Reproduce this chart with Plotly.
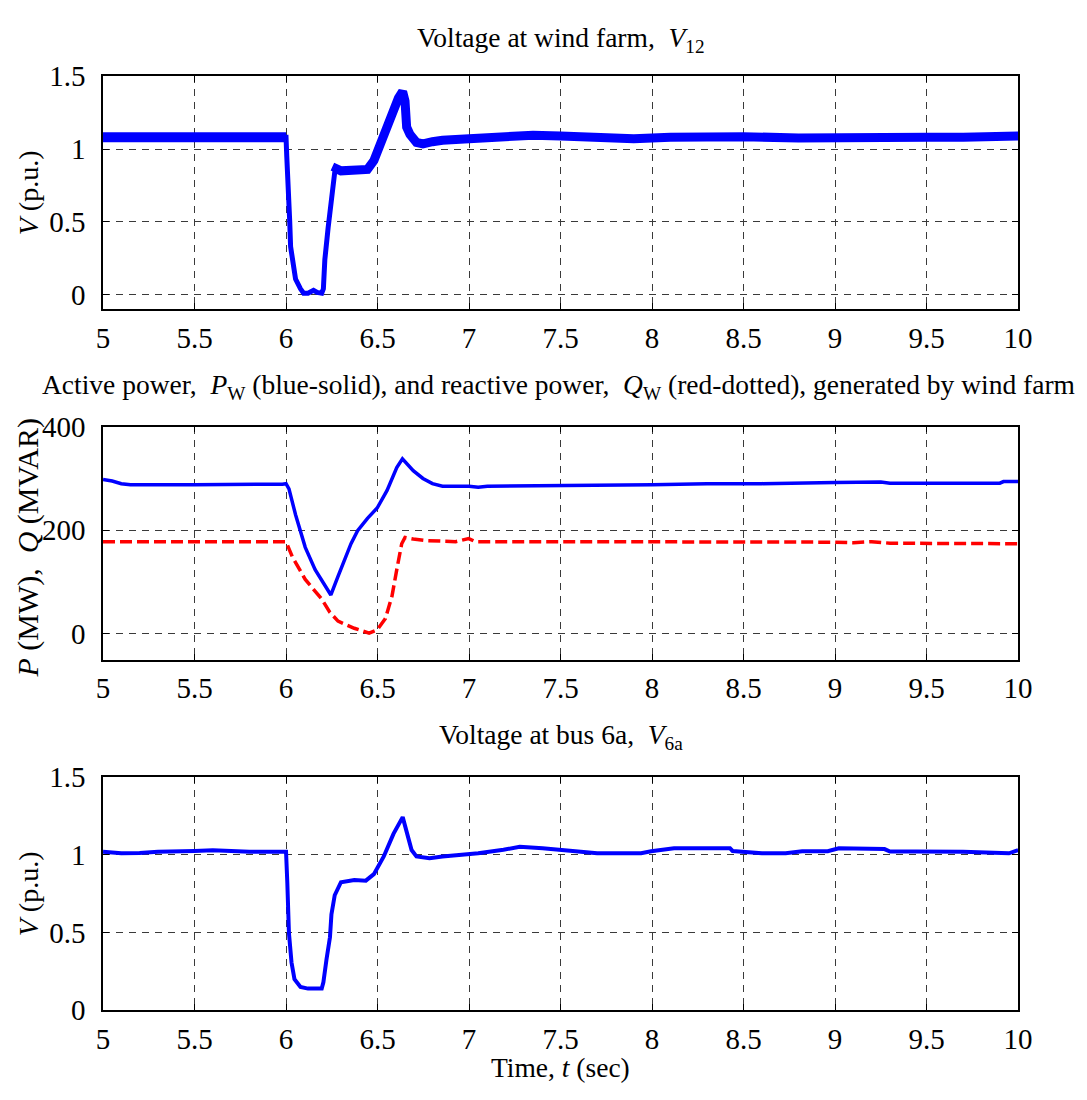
import plotly.graph_objects as go

# ---------------- data ----------------
# Top: voltage at wind farm V12 (p.u.)
t12 = [5.0, 5.2, 5.4, 5.6, 5.8, 6.0, 6.004, 6.016, 6.02, 6.025, 6.0375, 6.052, 6.079, 6.096,
       6.12, 6.15, 6.17, 6.195, 6.204, 6.212, 6.23, 6.245, 6.257, 6.266, 6.275, 6.3, 6.35,
       6.4, 6.445, 6.48, 6.516, 6.57, 6.614, 6.637, 6.65, 6.659, 6.677, 6.7125, 6.748, 6.8,
       6.855, 7.0, 7.2, 7.35, 7.5, 7.7, 7.9, 8.1, 8.3, 8.5, 8.8, 9.0, 9.3, 9.5, 9.7, 10.0]
v12 = [1.08, 1.08, 1.085, 1.08, 1.085, 1.08, 0.95, 0.684, 0.507, 0.329, 0.196, 0.107, 0.04, 0.01,
       0.01, 0.03, 0.015, 0.01, 0.04, 0.24, 0.46, 0.62, 0.75, 0.84, 0.865, 0.85, 0.855,
       0.85, 0.86, 0.92, 1.04, 1.195, 1.35, 1.395, 1.33, 1.15, 1.1, 1.045, 1.035, 1.05,
       1.06, 1.07, 1.085, 1.095, 1.09, 1.075, 1.07, 1.08, 1.09, 1.085, 1.075, 1.08, 1.085, 1.08, 1.08, 1.09]

# Middle: active power P_W (MW) and reactive power Q_W (MVAR)
tp = [5.0, 5.05, 5.1, 5.15, 5.5, 5.9, 5.98, 6.0, 6.016, 6.052, 6.105, 6.159, 6.245, 6.284,
      6.355, 6.391, 6.445, 6.498, 6.552, 6.605, 6.636, 6.695, 6.748, 6.8, 6.855, 7.0, 7.05,
      7.1, 7.5, 8.0, 8.3, 8.6, 9.0, 9.25, 9.3, 9.9, 9.92, 10.0]
pw = [298, 295, 290, 288, 288, 288, 289, 290, 280, 230, 167, 124, 75, 111,
      174, 199, 223, 243, 277, 321, 338, 315, 300, 290, 285, 285, 283,
      285, 286, 288, 290, 290, 292, 293, 291, 291, 294, 294]

tq = [5.0, 5.5, 6.0, 6.034, 6.105, 6.195, 6.239, 6.284, 6.373, 6.454, 6.498, 6.543, 6.579,
      6.605, 6.632, 6.65, 6.695, 6.766, 6.927, 6.998, 7.034, 7.5, 8.0, 8.5, 9.0, 9.1, 9.2,
      9.3, 9.5, 10.0]
qw = [178, 178, 178, 149, 105, 67, 42, 24.5, 10.7, 1.3, 7.5, 29.5, 73,
      124, 174, 186, 183, 180, 178, 184, 178, 178, 178, 178, 177, 176, 178,
      175, 175, 174]

# Bottom: voltage at bus 6a (p.u.)
tv = [5.0, 5.05, 5.1, 5.2, 5.3, 5.5, 5.6, 5.8, 6.0, 6.007, 6.012, 6.016, 6.03, 6.046, 6.079,
      6.12, 6.195, 6.204, 6.221, 6.24, 6.248, 6.266, 6.30, 6.373, 6.436, 6.48, 6.534, 6.587,
      6.6375, 6.659, 6.686, 6.7125, 6.784, 6.855, 6.998, 7.05, 7.188, 7.277, 7.402, 7.509,
      7.652, 7.7, 7.94, 7.995, 8.12, 8.426, 8.44, 8.55, 8.6, 8.73, 8.82, 8.96, 9.02, 9.27,
      9.3, 9.44, 9.7, 9.95, 10.0]
v6a = [1.02, 1.015, 1.01, 1.012, 1.02, 1.025, 1.03, 1.02, 1.02, 0.82, 0.66, 0.494, 0.307, 0.2, 0.15,
       0.139, 0.139, 0.18, 0.326, 0.47, 0.616, 0.74, 0.824, 0.838, 0.834, 0.876, 0.99, 1.135,
       1.243, 1.156, 1.031, 0.99, 0.979, 0.99, 1.0, 1.01, 1.033, 1.052, 1.042, 1.031,
       1.017, 1.01, 1.01, 1.023, 1.042, 1.042, 1.025, 1.017, 1.01, 1.01, 1.023, 1.023, 1.042, 1.037,
       1.021, 1.021, 1.02, 1.01, 1.03]

xticks = [5, 5.5, 6, 6.5, 7, 7.5, 8, 8.5, 9, 9.5, 10]
xticklabels = ["5", "5.5", "6", "6.5", "7", "7.5", "8", "8.5", "9", "9.5", "10"]
yticks_v = [0, 0.5, 1, 1.5]
yticklabels_v = ["0", "0.5", "1", "1.5"]
yticks_p = [0, 200, 400]

# ---------------- figure ----------------
W, H = 1087, 1100
FONT = "Liberation Serif, Times New Roman, serif"
BLUE = "#0000ff"
RED = "#ff0000"

fig = go.Figure()

# top: thin line everywhere, thicker "noisy band" in steady parts
fig.add_trace(go.Scatter(x=t12, y=v12, mode="lines", line=dict(color=BLUE, width=5),
                         xaxis="x", yaxis="y", showlegend=False))
thick_idx = [i for i, t in enumerate(t12) if t <= 6.0]
fig.add_trace(go.Scatter(x=[t12[i] for i in thick_idx], y=[v12[i] for i in thick_idx], mode="lines",
                         line=dict(color=BLUE, width=10), xaxis="x", yaxis="y", showlegend=False))
thick_idx2 = [i for i, t in enumerate(t12) if t >= 6.266]
fig.add_trace(go.Scatter(x=[t12[i] for i in thick_idx2], y=[v12[i] for i in thick_idx2], mode="lines",
                         line=dict(color=BLUE, width=9), xaxis="x", yaxis="y", showlegend=False))

fig.add_trace(go.Scatter(x=tp, y=pw, mode="lines", line=dict(color=BLUE, width=3.5),
                         xaxis="x2", yaxis="y2", showlegend=False))
fig.add_trace(go.Scatter(x=tq, y=qw, mode="lines", line=dict(color=RED, width=3.5, dash="12px,5px"),
                         xaxis="x2", yaxis="y2", showlegend=False))

fig.add_trace(go.Scatter(x=tv, y=v6a, mode="lines", line=dict(color=BLUE, width=4),
                         xaxis="x3", yaxis="y3", showlegend=False))

xdom = [98 / W, 1032 / W]


def ydom(top, bottom):
    return [1 - bottom / H, 1 - top / H]


TICKF = dict(family=FONT, size=29, color="black")
common_x = dict(range=[5, 10], tickvals=xticks, ticktext=xticklabels, showgrid=True,
                gridcolor="#3a3a3a", griddash="7px,6px", gridwidth=1, zeroline=False,
                showline=True, linecolor="black", linewidth=1.5, mirror="ticks",
                ticks="inside", ticklen=6, tickcolor="black", tickfont=TICKF,
                ticklabelstandoff=2, domain=xdom)
common_y = dict(showgrid=True, gridcolor="#3a3a3a", griddash="7px,6px", gridwidth=1, zeroline=False,
                showline=True, linecolor="black", linewidth=1.5, mirror="ticks",
                ticks="inside", ticklen=6, tickcolor="black", tickfont=TICKF,
                ticklabelstandoff=10)

fig.update_layout(
    width=W, height=H,
    margin=dict(l=0, r=0, t=0, b=0),
    paper_bgcolor="white", plot_bgcolor="white",
    xaxis=dict(**common_x, anchor="y"),
    yaxis=dict(**common_y, range=[-0.1, 1.5], tickvals=yticks_v, ticktext=yticklabels_v,
               domain=ydom(62, 302), anchor="x"),
    xaxis2=dict(**common_x, anchor="y2"),
    yaxis2=dict(**common_y, range=[-50, 400], tickvals=yticks_p, ticktext=[str(v) for v in yticks_p],
                domain=ydom(423, 663), anchor="x2"),
    xaxis3=dict(**common_x, anchor="y3"),
    yaxis3=dict(**common_y, range=[0, 1.5], tickvals=yticks_v, ticktext=yticklabels_v,
                domain=ydom(784, 1024), anchor="x3"),
)

TF = dict(family=FONT, size=27.5, color="black")
ann = [
    dict(text="Voltage at wind farm,&nbsp; <i>V</i><sub>12</sub>", x=565 / W, y=1 - 24 / H),
    dict(text="Active power,&nbsp; <i>P</i><sub>W</sub> (blue-solid), and reactive power,&nbsp; <i>Q</i><sub>W</sub> (red-dotted), generated by wind farm",
         x=563 / W, y=1 - 382 / H),
    dict(text="Voltage at bus 6a,&nbsp; <i>V</i><sub>6a</sub>", x=565 / W, y=1 - 742 / H),
    dict(text="Time, <i>t</i> (sec)", x=565 / W, y=1 - 1083 / H),
]
for a in ann:
    fig.add_annotation(xref="paper", yref="paper", showarrow=False, font=TF,
                       xanchor="center", yanchor="middle", **a)

ylab = [
    dict(text="<i>V</i> (p.u.)", y=1 - 182 / H, font=dict(family=FONT, size=28, color="black")),
    dict(text="<i>P</i> (MW),&nbsp; <i>Q</i> (MVAR)", y=1 - 548 / H,
         font=dict(family=FONT, size=30, color="black")),
    dict(text="<i>V</i> (p.u.)", y=1 - 904 / H, font=dict(family=FONT, size=28, color="black")),
]
for a in ylab:
    fig.add_annotation(xref="paper", yref="paper", showarrow=False, textangle=-90,
                       x=22 / W, xanchor="center", yanchor="middle", **a)

fig.write_html("out.html")
